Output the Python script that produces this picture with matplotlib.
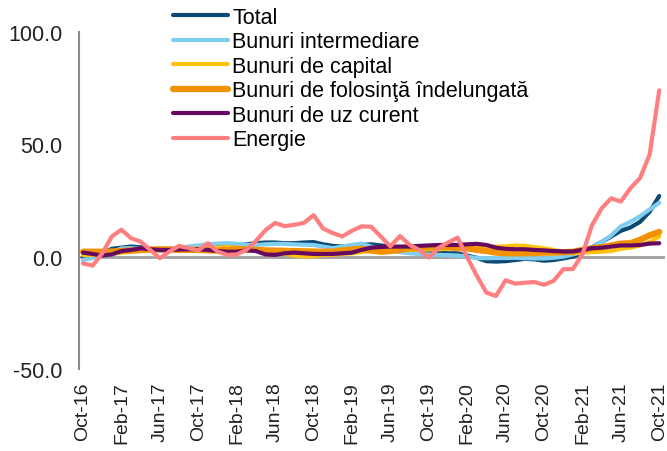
import matplotlib
matplotlib.use("Agg")
import matplotlib.pyplot as plt

plt.rcParams['font.family'] = ['Liberation Sans', 'DejaVu Sans']

# monthly, Oct-16 .. Oct-21 (61 months)
months = ['Oct', 'Nov', 'Dec', 'Jan', 'Feb', 'Mar', 'Apr', 'May', 'Jun', 'Jul', 'Aug', 'Sep']
labels = []
for k in range(61):
    y = 16 + (9 + k) // 12
    labels.append(f"{months[k % 12]}-{y}")

total = [0.0, 0.8, 1.5, 3.5, 4.0, 4.5, 4.2, 3.5, 2.8, 3.0, 3.3, 3.6, 3.8, 4.0, 4.5, 4.8,
         5.0, 5.5, 6.0, 6.3, 6.3, 6.0, 6.0, 6.3, 6.5, 5.5, 4.8, 4.5, 5.0, 5.2, 5.5, 5.0,
         4.5, 3.8, 3.0, 2.5, 2.0, 1.8, 1.5, 1.5, 0.5, -0.5, -2.0, -2.2, -2.0, -1.5, -1.0,
         -1.2, -1.8, -1.5, -0.8, 0.0, 1.5, 4.2, 6.5, 9.0, 11.5, 13.0, 15.5, 20.0, 27.0]
intermediare = [-1.5, -0.5, 0.5, 2.0, 3.7, 3.8, 3.5, 3.0, 3.0, 3.5, 4.0, 4.5, 5.0, 5.5, 5.8,
                6.0, 5.7, 5.3, 5.2, 5.5, 5.7, 5.7, 5.5, 5.3, 5.2, 4.5, 3.8, 4.5, 5.2, 5.8,
                4.5, 3.5, 2.8, 2.0, 1.5, 1.2, 1.0, 0.8, 0.7, 0.5, 0.0, -0.6, -0.7, -0.6,
                -0.6, -0.5, -0.7, -0.8, -0.8, -0.5, 0.0, 1.0, 2.0, 4.0, 6.5, 9.5, 13.5,
                15.5, 18.0, 21.0, 24.0]
capital = [0.7, 0.8, 1.0, 1.3, 1.8, 2.2, 2.5, 2.8, 3.0, 3.2, 3.3, 3.5, 3.6, 3.7, 4.0, 4.3,
           4.0, 3.5, 3.2, 2.5, 1.8, 1.2, 0.5, 0.0, 0.2, 0.7, 0.8, 1.2, 1.5, 2.0, 2.5, 2.0,
           2.2, 2.6, 3.0, 3.0, 3.2, 3.3, 3.5, 3.7, 3.8, 4.0, 4.2, 4.5, 4.6, 5.0, 4.8, 4.2,
           3.7, 3.0, 2.2, 1.5, 1.8, 2.0, 2.2, 2.5, 3.5, 4.0, 5.0, 6.5, 9.0]
folosinta = [2.2, 2.2, 2.2, 2.3, 2.5, 2.8, 3.0, 3.2, 3.3, 3.2, 3.0, 3.0, 3.0, 2.8, 2.7,
             3.0, 3.3, 3.3, 3.0, 2.8, 2.7, 2.6, 2.5, 2.4, 2.3, 2.2, 2.3, 2.8, 3.2, 3.5,
             2.8, 2.2, 2.5, 3.0, 3.8, 4.0, 4.2, 4.5, 4.2, 3.8, 3.7, 3.0, 2.5, 1.8, 1.5,
             1.5, 1.5, 1.6, 1.8, 1.8, 2.0, 2.2, 3.0, 3.7, 4.2, 5.0, 5.8, 6.0, 7.5, 9.5, 11.0]
uz_curent = [1.8, 1.2, 0.5, 1.0, 2.5, 3.0, 3.7, 3.3, 3.0, 3.0, 3.2, 3.3, 3.3, 3.0, 2.5,
             2.2, 2.2, 2.8, 2.5, 1.0, 0.8, 1.5, 1.8, 1.5, 1.2, 1.2, 1.2, 1.5, 1.8, 3.0,
             4.0, 4.3, 4.5, 4.5, 4.5, 4.8, 5.0, 5.2, 5.2, 5.2, 5.5, 5.7, 5.2, 4.0, 3.5,
             3.3, 3.3, 3.0, 2.8, 2.5, 2.3, 2.3, 3.0, 3.8, 4.0, 4.5, 5.0, 5.0, 5.2, 5.8, 6.0]
energie = [-3.0, -4.0, 1.5, 9.0, 12.0, 8.2, 6.7, 3.0, -0.7, 2.3, 4.8, 3.8, 2.8, 6.0, 2.3,
           0.8, 1.0, 3.0, 7.0, 11.8, 15.0, 13.6, 14.2, 15.0, 18.5, 12.5, 10.5, 9.0, 11.5,
           13.5, 13.3, 9.0, 4.6, 9.2, 5.3, 3.0, -0.4, 3.8, 6.3, 8.5, -0.3, -8.5, -16.0,
           -17.5, -10.5, -12.0, -11.6, -11.3, -12.5, -10.8, -5.6, -5.5, 1.0, 14.0, 21.5,
           26.0, 24.5, 30.5, 35.0, 45.5, 74.0]

series = [
    ('Total', total, '#0d4a73', 3.0),
    ('Bunuri intermediare', intermediare, '#80cdef', 3.0),
    ('Bunuri de capital', capital, '#ffc20e', 3.0),
    ('Bunuri de folosinţă îndelungată', folosinta, '#f39200', 4.5),
    ('Bunuri de uz curent', uz_curent, '#650a5f', 3.0),
    ('Energie', energie, '#ff7f80', 3.0),
]

fig = plt.figure(figsize=(6.67, 4.52), dpi=100)
ax = fig.add_axes([79 / 667, 1 - 370 / 452, 586 / 667, 337 / 452])

ax.axhline(0, color='#a0a0a0', lw=2.0, zorder=1)
x = list(range(len(labels)))
for name, vals, col, lw in series:
    ax.plot(x, vals, color=col, lw=lw, label=name, solid_capstyle='round', zorder=2)

ax.set_xlim(-0.42, 60.6)
ax.set_ylim(-50, 100)
ax.set_yticks([-50, 0, 50, 100])
ax.set_yticklabels(['-50.0', '0.0', '50.0', '100.0'])
ax.set_xticks(x[::4])
ax.set_xticklabels(labels[::4], rotation=90)
ax.tick_params(axis='both', length=0, colors='#222222')
ax.tick_params(axis='y', pad=12, labelsize=15.5)
ax.tick_params(axis='x', pad=9, labelsize=14)

for s in ['top', 'right', 'bottom']:
    ax.spines[s].set_visible(False)
ax.spines['left'].set_color('#8c8c8c')
ax.spines['left'].set_linewidth(1.5)

ax.legend(loc='upper left', bbox_to_anchor=(173 / 667, 1 - 8 / 452),
          bbox_transform=fig.transFigure, frameon=False, fontsize=15.5,
          handlelength=2.55, handletextpad=0.2, labelspacing=0.16,
          borderpad=0, borderaxespad=0)

fig.savefig('out.png', dpi=100)
